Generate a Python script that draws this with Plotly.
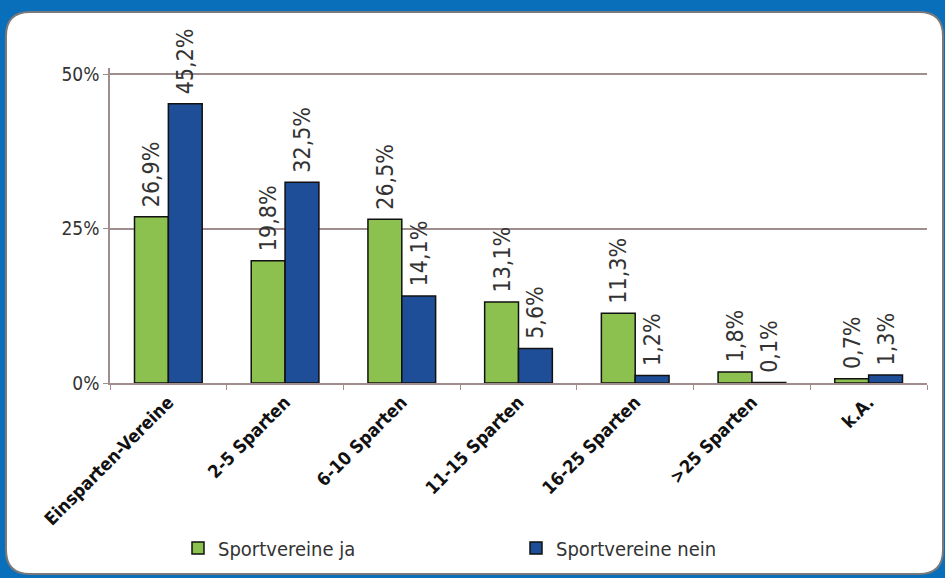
import plotly.graph_objects as go

categories = ["Einsparten-Vereine", "2-5 Sparten", "6-10 Sparten", "11-15 Sparten",
              "16-25 Sparten", ">25 Sparten", "k.A."]
ja_values = [26.9, 19.8, 26.5, 13.1, 11.3, 1.8, 0.7]
nein_values = [45.2, 32.5, 14.1, 5.6, 1.2, 0.1, 1.3]
y_ticks = [0, 25, 50]
y_tick_labels = ["0%", "25%", "50%"]

W, H = 945, 578
ML, MR, MT, MB = 110, 18, 68, 195
PW, PH = W - ML - MR, H - MT - MB

def px(x):
    return (x - ML) / PW

def py(y):
    return (H - MB - y) / PH

FONT = "DejaVu Sans Condensed, Liberation Sans Narrow, Arial Narrow, sans-serif"

fig = go.Figure()
fig.add_trace(go.Bar(
    name="Sportvereine ja", x=categories, y=ja_values,
    marker=dict(color="#8cc04f", line=dict(color="#111111", width=1.5)),
    texttemplate="\u00a0%{y:.1f}%", textposition="outside", textangle=-90,
    constraintext="none", cliponaxis=False,
    textfont=dict(family=FONT, size=23, color="#333333"),
    legend="legend",
))
fig.add_trace(go.Bar(
    name="Sportvereine nein", x=categories, y=nein_values,
    marker=dict(color="#1f4e98", line=dict(color="#111111", width=1.5)),
    texttemplate="\u00a0%{y:.1f}%", textposition="outside", textangle=-90,
    constraintext="none", cliponaxis=False,
    textfont=dict(family=FONT, size=23, color="#333333"),
    legend="legend2",
))

# rounded white panel
x0, x1, y0, y1, r = 6, 943, 12, 574, 24
path = (f"M {px(x0 + r)},{py(y0)} L {px(x1 - r)},{py(y0)} "
        f"Q {px(x1)},{py(y0)} {px(x1)},{py(y0 + r)} "
        f"L {px(x1)},{py(y1 - r)} Q {px(x1)},{py(y1)} {px(x1 - r)},{py(y1)} "
        f"L {px(x0 + r)},{py(y1)} Q {px(x0)},{py(y1)} {px(x0)},{py(y1 - r)} "
        f"L {px(x0)},{py(y0 + r)} Q {px(x0)},{py(y0)} {px(x0 + r)},{py(y0)} Z")

legend_common = dict(orientation="h", yanchor="middle", xanchor="left",
                     font=dict(family=FONT, size=20, color="#333333"),
                     bgcolor="rgba(0,0,0,0)", itemwidth=30)

fig.update_layout(
    width=W, height=H,
    margin=dict(l=ML, r=MR, t=MT, b=MB, autoexpand=False),
    paper_bgcolor="#0a6fba", plot_bgcolor="rgba(0,0,0,0)",
    separators=",.",
    barmode="group", bargap=0.42, bargroupgap=0,
    font=dict(family=FONT, size=19, color="#333333"),
    shapes=[dict(type="path", xref="paper", yref="paper", path=path,
                 fillcolor="white", line=dict(color="#7a7a7a", width=2), layer="below")],
    showlegend=True,
    legend=dict(x=px(178), y=py(548), **legend_common),
    legend2=dict(x=px(516), y=py(548), **legend_common),
)
fig.update_xaxes(
    showline=True, linecolor="#a08e8e", linewidth=1.5,
    ticks="outside", tickson="boundaries", ticklen=5, tickcolor="#a08e8e",
    tickangle=-45, tickfont=dict(family=FONT, size=18, color="#111111", weight="bold"),
    showgrid=False, automargin=False,
)
fig.update_yaxes(
    range=[0, 51], tickvals=y_ticks, ticktext=y_tick_labels,
    showline=True, linecolor="#a08e8e", linewidth=1.5,
    ticks="outside", ticklen=5, tickcolor="#a08e8e",
    showgrid=True, gridcolor="#a08e8e", gridwidth=1.5,
    zeroline=False, automargin=False,
    tickfont=dict(family=FONT, size=19, color="#333333"),
)

fig.write_html("out.html",
               config={"displayModeBar": False},
               post_script="document.body.style.margin='0';document.body.style.background='#0a6fba';")
